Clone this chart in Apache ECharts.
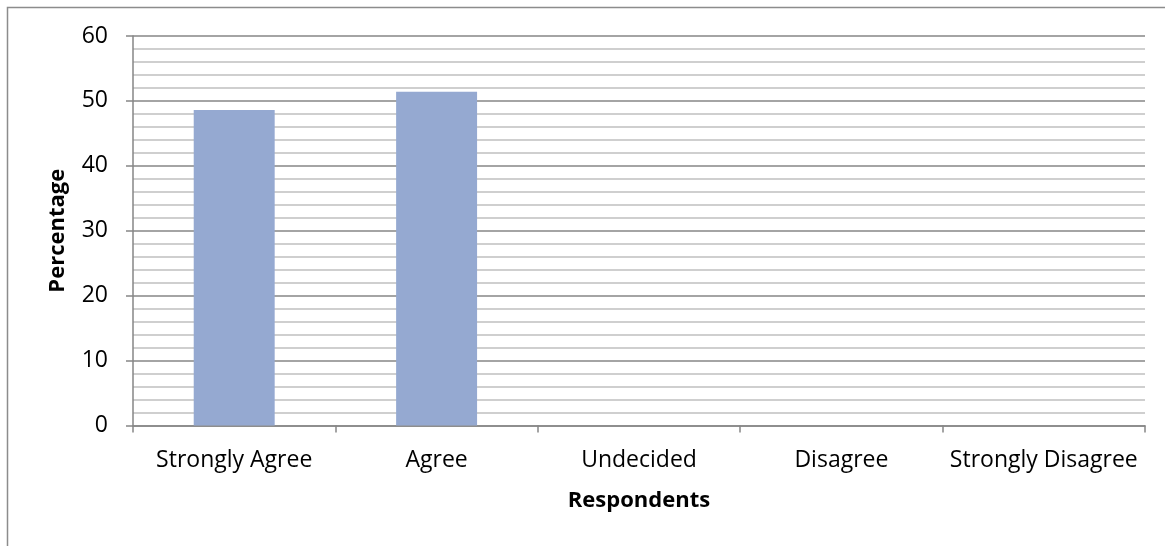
<!DOCTYPE html>
<html>
<head>
<meta charset="utf-8">
<script src="https://cdn.jsdelivr.net/npm/echarts@6/dist/echarts.min.js"></script>
<style>
  html, body { margin: 0; padding: 0; background: #fff; }
  #chart { width: 1165px; height: 546px; }
</style>
</head>
<body>
<div id="chart"></div>
<script>
// Survey responses (percentage of respondents per answer)
const categories = ['Strongly Agree', 'Agree', 'Undecided', 'Disagree', 'Strongly Disagree'];
const percentages = [48.6, 51.4, 0, 0, 0];

const FONT = '"Open Sans", "Noto Sans", sans-serif';
const chart = echarts.init(document.getElementById('chart'), null, { renderer: 'canvas' });

chart.setOption({
  backgroundColor: '#ffffff',
  animation: false,
  graphic: [{
    type: 'rect',
    shape: { x: 7.5, y: 7.5, width: 1200, height: 600 },
    style: { fill: 'none', stroke: '#8c8c8c', lineWidth: 1.5 },
    silent: true
  }],
  grid: { left: 133, top: 36, right: 20, bottom: 120.5 },
  xAxis: {
    type: 'category',
    data: categories,
    name: 'Respondents',
    nameLocation: 'middle',
    nameGap: 64,
    nameTextStyle: { fontFamily: FONT, fontSize: 22, fontWeight: 'bold', color: '#000' },
    axisLine: { lineStyle: { color: '#868686', width: 1.5 } },
    axisTick: { show: true, interval: 0, length: 7, lineStyle: { color: '#868686', width: 1.5 } },
    axisLabel: { interval: 0, fontFamily: FONT, fontSize: 23, color: '#000', margin: 23 },
    splitLine: { show: false }
  },
  yAxis: {
    type: 'value',
    min: 0,
    max: 60,
    interval: 10,
    name: 'Percentage',
    nameLocation: 'middle',
    nameGap: 64,
    nameRotate: 90,
    nameTextStyle: { fontFamily: FONT, fontSize: 22, fontWeight: 'bold', color: '#000' },
    axisLine: { show: true, lineStyle: { color: '#868686', width: 1.5 } },
    axisTick: { show: true, length: 7, lineStyle: { color: '#868686', width: 1.5 } },
    axisLabel: { fontFamily: FONT, fontSize: 23, color: '#000', margin: 25 },
    splitLine: { show: true, lineStyle: { color: '#868686', width: 1.5 } },
    minorTick: { show: false, splitNumber: 5 },
    minorSplitLine: { show: true, lineStyle: { color: '#c0c0c0', width: 1.5 } }
  },
  series: [{
    type: 'bar',
    data: percentages,
    barWidth: '40%',
    itemStyle: { color: '#95a9d1' }
  }]
});
</script>
</body>
</html>
